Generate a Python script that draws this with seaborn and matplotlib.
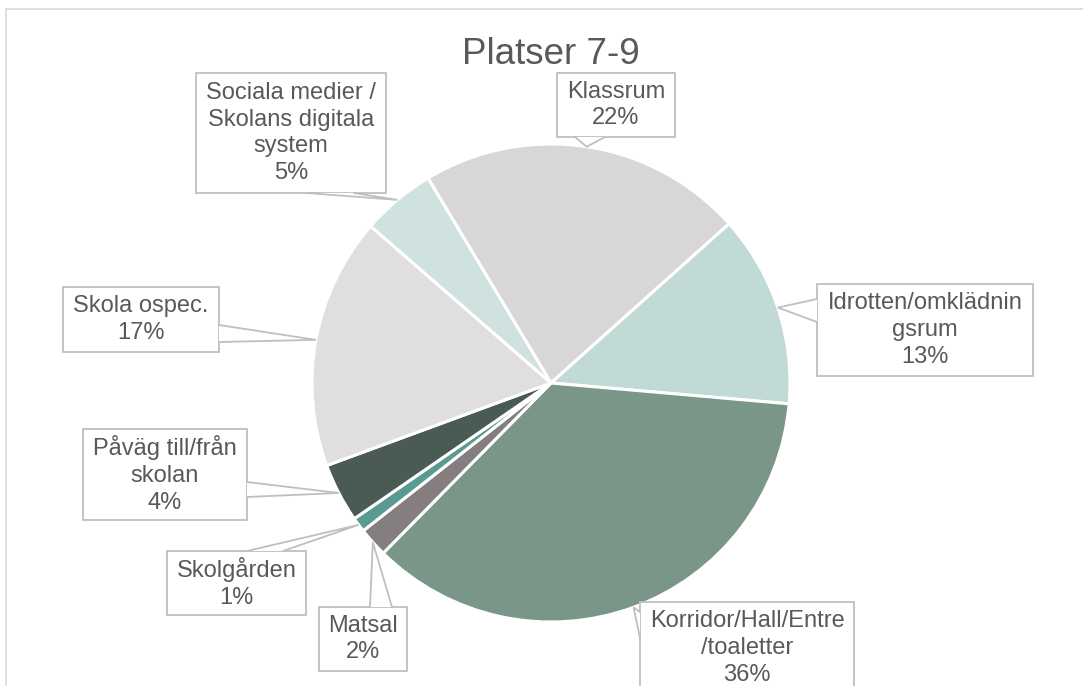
import matplotlib
matplotlib.use("Agg")
import matplotlib.pyplot as plt
import seaborn as sns
import numpy as np
from matplotlib.patches import Rectangle, Polygon

# ---- data ----
categories = ["Klassrum", "Idrotten/omklädningsrum", "Korridor/Hall/Entre/toaletter",
              "Matsal", "Skolgården", "Påväg till/från skolan", "Skola ospec.",
              "Sociala medier / Skolans digitala system"]
values = [22, 13, 36, 2, 1, 4, 17, 5]
label_text = ["Klassrum", "Idrotten/omklädnin\ngsrum", "Korridor/Hall/Entre\n/toaletter",
              "Matsal", "Skolgården", "Påväg till/från\nskolan", "Skola ospec.",
              "Sociala medier /\nSkolans digitala\nsystem"]
title = "Platser 7-9"

colors = ["#D9D6D6", "#C2DAD6", "#7A9689", "#857E7E", "#5A9A90", "#4A5B54",
          "#E0DEDF", "#D0E2DF"]

# ---- layout (pixel coordinates, y from top) ----
W, H = 1083, 686
cx, cy, R = 551, 383, 239
boxes = {  # x0, y0, x1, y1
    "Klassrum": (557, 73, 675, 137),
    "Idrotten/omklädningsrum": (817, 284, 1033, 376),
    "Korridor/Hall/Entre/toaletter": (640, 602, 854, 694),
    "Matsal": (319, 607, 407, 671),
    "Skolgården": (167, 551, 306, 615),
    "Påväg till/från skolan": (83, 429, 247, 520),
    "Skola ospec.": (63, 287, 219, 352),
    "Sociala medier / Skolans digitala system": (196, 73, 386, 193),
}
bases = {  # two base points of callout pointer
    "Klassrum": ((575, 137), (605, 137)),
    "Idrotten/omklädningsrum": ((817, 299), (817, 322)),
    "Korridor/Hall/Entre/toaletter": ((640, 612), (640, 638)),
    "Matsal": ((370, 607), (392, 607)),
    "Skolgården": ((247, 551), (283, 551)),
    "Påväg till/från skolan": ((247, 482), (247, 497)),
    "Skola ospec.": ((219, 325), (219, 342)),
    "Sociala medier / Skolans digitala system": ((307, 193), (354, 193)),
}

sns.set_theme(style="white")
plt.rcParams["font.family"] = ["Liberation Sans", "DejaVu Sans"]

TXT = "#595959"
EDGE = "#BFBFBF"

fig = plt.figure(figsize=(W / 100, H / 100), dpi=100)
ax = fig.add_axes([0, 0, 1, 1])

def Y(p):
    return H - p

wedges, _ = ax.pie(values, colors=colors, startangle=121, counterclock=False,
                   radius=R, center=(cx, Y(cy)),
                   wedgeprops=dict(edgecolor="white", linewidth=2.2))
ax.set_xlim(0, W)
ax.set_ylim(0, H)
ax.set_aspect("equal")
ax.axis("off")

for w, cat, lab, v in zip(wedges, categories, label_text, values):
    mid = np.deg2rad((w.theta1 + w.theta2) / 2)
    tip = (cx + R * np.cos(mid), Y(cy) + R * np.sin(mid))
    x0, y0, x1, y1 = boxes[cat]
    ax.add_patch(Rectangle((x0, Y(y1)), x1 - x0, y1 - y0, facecolor="white",
                           edgecolor=EDGE, linewidth=1.3, zorder=3))
    b1, b2 = bases[cat]
    p1 = (b1[0], Y(b1[1]))
    p2 = (b2[0], Y(b2[1]))
    ax.add_patch(Polygon([p1, tip, p2], closed=True, facecolor="white",
                         edgecolor="none", zorder=4))
    ax.plot([p1[0], tip[0], p2[0]], [p1[1], tip[1], p2[1]], color=EDGE,
            linewidth=1.3, zorder=5, solid_joinstyle="miter")
    ax.text((x0 + x1) / 2, Y((y0 + y1) / 2), f"{lab}\n{v}%", ha="center",
            va="center", fontsize=17, color=TXT, linespacing=1.27, zorder=6)

ax.text(cx, Y(54), title, ha="center", va="center", fontsize=26.5, color=TXT)

# chart border
ax.plot([6, W], [Y(9), Y(9)], color="#D9D9D9", linewidth=1.2, clip_on=False)
ax.plot([6, 6], [Y(9), 0], color="#D9D9D9", linewidth=1.2, clip_on=False)

fig.savefig("out.png", dpi=100)
